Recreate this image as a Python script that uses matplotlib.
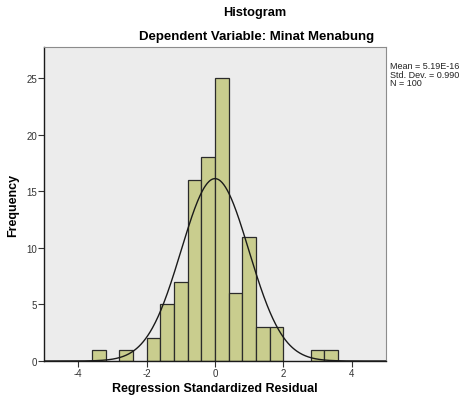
import numpy as np
import matplotlib
matplotlib.use("Agg")
import matplotlib.pyplot as plt

# Data
bin_left_edges = [-3.6, -2.8, -2.0, -1.6, -1.2, -0.8, -0.4, 0.0, 0.4, 0.8, 1.2, 1.6, 2.8, 3.2]
counts = [1, 1, 2, 5, 7, 16, 18, 25, 6, 11, 3, 3, 1, 1]
bin_width = 0.4
mean_val = 5.19e-16
std_val = 0.990
n_val = 100
x_ticks = [-4, -2, 0, 2, 4]
y_ticks = [0, 5, 10, 15, 20, 25]

plt.rcParams['font.family'] = ['Liberation Sans', 'DejaVu Sans']

fig = plt.figure(figsize=(4.62, 4.02), dpi=100)
ax = fig.add_axes([44/462, 1 - 362/402, (386-44)/462, (362-48)/402])
ax.set_facecolor('#ececec')

ax.bar(bin_left_edges, counts, width=bin_width, align='edge',
       color='#c9cd8e', edgecolor='#2b2b2b', linewidth=0.9, zorder=2)

xs = np.linspace(-5, 5, 600)
pdf = n_val * bin_width / (std_val * np.sqrt(2 * np.pi)) * np.exp(-0.5 * ((xs - mean_val) / std_val) ** 2)
ax.plot(xs, pdf, color='#1a1a1a', linewidth=1.0, zorder=3)

ax.set_xlim(-5, 5)
ax.set_ylim(0, 27.75)
ax.set_xticks(x_ticks)
ax.set_xticklabels([str(t) for t in x_ticks])
ax.set_yticks(y_ticks)
ax.set_yticklabels([str(t) for t in y_ticks])
ax.tick_params(axis='both', labelsize=7, colors='#333333', length=4, width=0.8, pad=1)

for side in ['top', 'right']:
    ax.spines[side].set_color('#8c8c8c')
    ax.spines[side].set_linewidth(0.8)
for side in ['left', 'bottom']:
    ax.spines[side].set_color('#1a1a1a')
    ax.spines[side].set_linewidth(1.0)

ax.set_ylabel('Frequency', fontsize=9, fontweight='bold', labelpad=5)
ax.set_xlabel('Regression Standardized Residual', fontsize=9, fontweight='bold', labelpad=3)

fig.text(255/462, 1 - 13/402, 'Histogram', ha='center', va='center', fontsize=9.2, fontweight='bold')
fig.text(257/462, 1 - 37/402, 'Dependent Variable: Minat Menabung', ha='center', va='center',
         fontsize=9.5, fontweight='bold')

fig.text(390/462, 1 - 62/402, 'Mean = 5.19E-16\nStd. Dev. = 0.990\nN = 100',
         ha='left', va='top', fontsize=6.5, linespacing=0.95, color='#222222')

fig.savefig('out.png', dpi=100)
